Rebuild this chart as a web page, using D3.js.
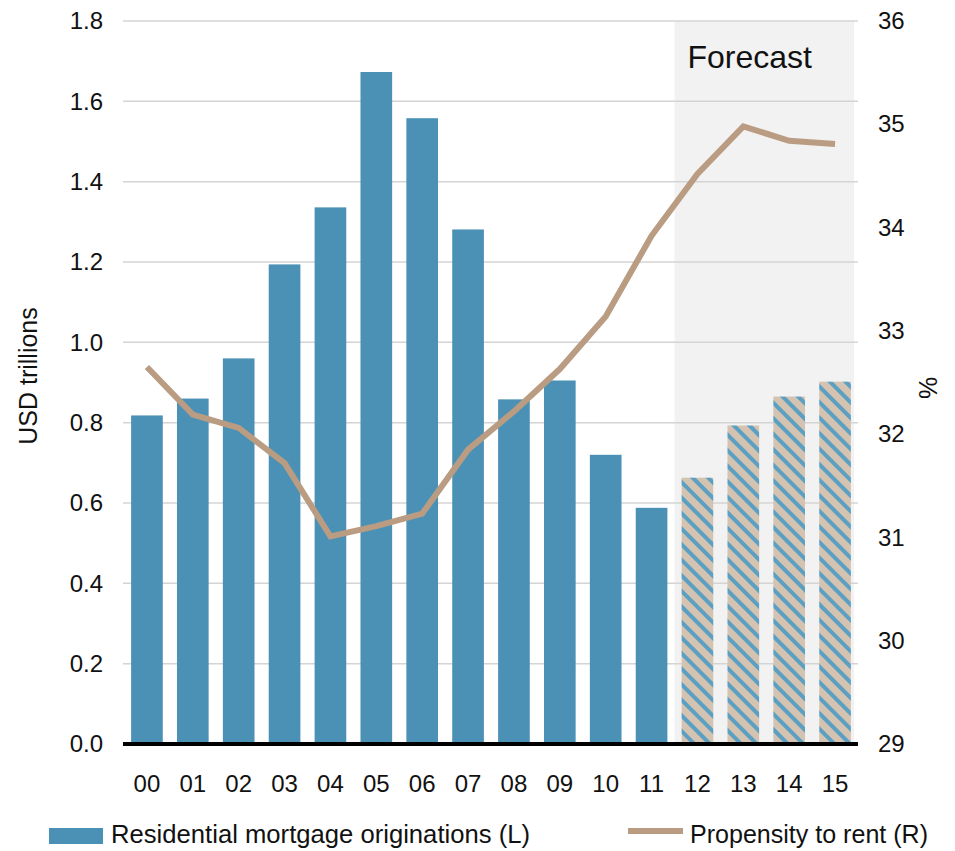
<!DOCTYPE html>
<html>
<head>
<meta charset="utf-8">
<script src="https://cdn.jsdelivr.net/npm/d3@7"></script>
<style>
  html, body { margin: 0; padding: 0; background: #fff; }
  svg { display: block; font-family: "Liberation Sans", Arial, sans-serif; }
</style>
</head>
<body>
<svg id="chart" width="955" height="851"></svg>
<script>
// Years (two-digit labels)
const years = ["00","01","02","03","04","05","06","07","08","09","10","11","12","13","14","15"];
// Residential mortgage originations, USD trillions (left axis)
const originations = [0.818, 0.860, 0.960, 1.194, 1.336, 1.673, 1.558, 1.281, 0.858, 0.905, 0.720, 0.588, 0.663, 0.793, 0.865, 0.902];
// Propensity to rent, % (right axis)
const propensity = [32.65, 32.19, 32.06, 31.72, 31.01, 31.11, 31.23, 31.85, 32.22, 32.63, 33.14, 33.92, 34.52, 34.98, 34.84, 34.81];
// First forecast year
const forecastFrom = "12";
// Axis ticks
const leftTicks = [0, 0.2, 0.4, 0.6, 0.8, 1.0, 1.2, 1.4, 1.6, 1.8];
const rightTicks = [29, 30, 31, 32, 33, 34, 35, 36];

const svg = d3.select("#chart");
const plotL = 123, plotR = 858, plotT = 21, plotB = 744;

const x = d3.scaleBand().domain(years).range([plotL + 1, plotR]).paddingInner(0.31).paddingOuter(0.155);
const yL = d3.scaleLinear().domain([0, 1.8]).range([plotB, plotT]);
const yR = d3.scaleLinear().domain([29, 36]).range([plotB, plotT]);

// Diagonal hatch for forecast bars
const defs = svg.append("defs");
const pat = defs.append("pattern")
  .attr("id", "hatch")
  .attr("patternUnits", "userSpaceOnUse")
  .attr("width", 11).attr("height", 11)
  .attr("patternTransform", "rotate(45)");
pat.append("rect").attr("width", 11).attr("height", 11).attr("fill", "#d4c3b0");
pat.append("rect").attr("x", 0).attr("y", 0).attr("width", 11).attr("height", 4).attr("fill", "#5b9fc2");

// Forecast shading
const fx0 = x(forecastFrom) - x.step() * x.paddingInner() / 2;
svg.append("rect")
  .attr("x", fx0).attr("y", plotT)
  .attr("width", plotR - 4 - fx0).attr("height", plotB - plotT)
  .attr("fill", "#f2f2f2");

// Gridlines
svg.append("g").selectAll("line").data(leftTicks.filter(d => d > 0)).join("line")
  .attr("x1", plotL).attr("x2", plotR)
  .attr("y1", d => yL(d)).attr("y2", d => yL(d))
  .attr("stroke", "#d4d4d4").attr("stroke-width", 1.5);

svg.append("text")
  .attr("x", fx0 + 13).attr("y", 68)
  .attr("font-size", 32).attr("fill", "#111")
  .text("Forecast");

// Bars
const forecastIdx = years.indexOf(forecastFrom);
svg.append("g").selectAll("rect").data(originations).join("rect")
  .attr("x", (d, i) => x(years[i]))
  .attr("width", x.bandwidth())
  .attr("y", d => yL(d))
  .attr("height", d => plotB - yL(d))
  .attr("fill", (d, i) => i >= forecastIdx ? "url(#hatch)" : "#4b90b5");

// Baseline
svg.append("line")
  .attr("x1", plotL).attr("x2", plotR)
  .attr("y1", plotB).attr("y2", plotB)
  .attr("stroke", "#000").attr("stroke-width", 4);

// Propensity line
const line = d3.line()
  .x((d, i) => x(years[i]) + x.bandwidth() / 2)
  .y(d => yR(d));
svg.append("path")
  .datum(propensity)
  .attr("d", line)
  .attr("fill", "none")
  .attr("stroke", "#b99c81")
  .attr("stroke-width", 6)
  .attr("stroke-linejoin", "miter");

// Axes
const axL = svg.append("g").attr("transform", `translate(${plotL},0)`)
  .call(d3.axisLeft(yL).tickValues(leftTicks).tickFormat(d3.format(".1f")).tickSize(0).tickPadding(20));
const axR = svg.append("g").attr("transform", `translate(${plotR},0)`)
  .call(d3.axisRight(yR).tickValues(rightTicks).tickFormat(d3.format("d")).tickSize(0).tickPadding(20));
const axB = svg.append("g").attr("transform", `translate(0,${plotB})`)
  .call(d3.axisBottom(x).tickSize(0).tickPadding(31));
[axL, axR, axB].forEach(g => {
  g.select(".domain").remove();
  g.selectAll("text").attr("font-size", 24).attr("fill", "#111")
    .attr("font-family", "'Liberation Sans', Arial, sans-serif");
});

// Axis titles
svg.append("text")
  .attr("transform", "translate(37,376) rotate(-90)")
  .attr("text-anchor", "middle").attr("font-size", 25).attr("fill", "#111")
  .text("USD trillions");
svg.append("text")
  .attr("transform", "translate(937,388) rotate(-90)")
  .attr("text-anchor", "middle").attr("font-size", 25).attr("fill", "#111")
  .text("%");

// Legend
const lg = svg.append("g");
lg.append("rect").attr("x", 49).attr("y", 828).attr("width", 54).attr("height", 16).attr("fill", "#4b90b5");
lg.append("text").attr("x", 111).attr("y", 843).attr("font-size", 25).attr("fill", "#111")
  .attr("textLength", 419).attr("lengthAdjust", "spacingAndGlyphs")
  .text("Residential mortgage originations (L)");
lg.append("line").attr("x1", 628).attr("x2", 683).attr("y1", 831).attr("y2", 831)
  .attr("stroke", "#b99c81").attr("stroke-width", 6);
lg.append("text").attr("x", 690).attr("y", 843).attr("font-size", 25).attr("fill", "#111")
  .attr("textLength", 238).attr("lengthAdjust", "spacingAndGlyphs")
  .text("Propensity to rent (R)");
</script>
</body>
</html>
